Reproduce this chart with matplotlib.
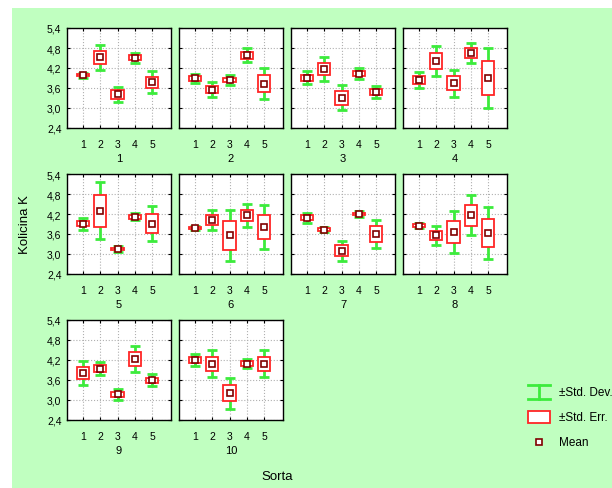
import matplotlib.pyplot as plt
import numpy as np
from matplotlib.patches import Rectangle

plt.rcParams['font.family'] = ['Liberation Sans', 'DejaVu Sans']

sorta = [1, 2, 3, 4, 5]
groups = ['1', '2', '3', '4', '5', '6', '7', '8', '9', '10']

# mean per group (rows) and sorta (cols)
means = [
    [3.98, 4.52, 3.41, 4.51, 3.77],
    [3.90, 3.55, 3.84, 4.58, 3.73],
    [3.91, 4.17, 3.31, 4.03, 3.48],
    [3.85, 4.41, 3.74, 4.66, 3.91],
    [3.91, 4.30, 3.15, 4.12, 3.91],
    [3.78, 4.02, 3.56, 4.16, 3.81],
    [4.09, 3.73, 3.10, 4.20, 3.60],
    [3.85, 3.56, 3.66, 4.16, 3.63],
    [3.81, 3.94, 3.17, 4.24, 3.59],
    [4.20, 4.09, 3.20, 4.09, 4.09],
]
std_err = [
    [0.03, 0.19, 0.13, 0.08, 0.16],
    [0.075, 0.10, 0.07, 0.095, 0.25],
    [0.085, 0.175, 0.21, 0.08, 0.09],
    [0.12, 0.235, 0.21, 0.145, 0.505],
    [0.075, 0.475, 0.04, 0.055, 0.29],
    [0.035, 0.155, 0.43, 0.175, 0.35],
    [0.07, 0.04, 0.16, 0.04, 0.235],
    [0.04, 0.14, 0.34, 0.31, 0.42],
    [0.18, 0.11, 0.07, 0.21, 0.08],
    [0.085, 0.205, 0.24, 0.07, 0.205],
]
std_dev = [
    [0.07, 0.37, 0.23, 0.15, 0.33],
    [0.135, 0.23, 0.15, 0.21, 0.47],
    [0.195, 0.35, 0.38, 0.165, 0.185],
    [0.245, 0.46, 0.40, 0.295, 0.905],
    [0.18, 0.855, 0.085, 0.10, 0.53],
    [0.055, 0.305, 0.77, 0.35, 0.66],
    [0.145, 0.08, 0.30, 0.08, 0.43],
    [0.075, 0.285, 0.62, 0.60, 0.78],
    [0.35, 0.195, 0.155, 0.385, 0.18],
    [0.185, 0.405, 0.475, 0.13, 0.40],
]
yticks = [2.4, 3.0, 3.6, 4.2, 4.8, 5.4]

GREEN = '#3CEB3C'
RED = '#FF2525'
DARK = '#800000'
W, H = 612, 489

fig = plt.figure(figsize=(W / 100, H / 100), dpi=100)
fig.patches.append(Rectangle((12 / W, 0), 1, (H - 9) / H, transform=fig.transFigure,
                             facecolor='#C0FFC0', edgecolor='none', zorder=-10))

lefts = [67, 179, 291, 403]
tops = [29, 175, 321]
pw, ph = 104, 100

for g, name in enumerate(groups):
    r, c = divmod(g, 4)
    ax = fig.add_axes([lefts[c] / W, 1 - (tops[r] + ph) / H, pw / W, ph / H])
    m = np.array(means[g])
    se = np.array(std_err[g])
    sd = np.array(std_dev[g])
    ax.errorbar(sorta, m, yerr=sd, fmt='none', ecolor=GREEN, elinewidth=2,
                capsize=3.6, capthick=2, zorder=2)
    ax.bar(sorta, 2 * se, bottom=m - se, width=0.72, facecolor='white',
           edgecolor=RED, linewidth=1.3, zorder=3)
    ax.plot(sorta, m, 's', ms=4.2, mfc='white', mec=DARK, mew=1.2, zorder=4)

    ax.set_xlim(0.07, 6.1)
    ax.set_ylim(2.4, 5.4)
    ax.set_xticks(sorta)
    ax.set_yticks(yticks)
    if c == 0:
        ax.set_yticklabels([f'{v:.1f}'.replace('.', ',') for v in yticks])
    else:
        ax.set_yticklabels([])
    ax.grid(True, color='#b0b0b0', linestyle=':', linewidth=0.8)
    ax.set_axisbelow(True)
    ax.tick_params(direction='in', length=2.5, width=0.8, labelsize=7.5,
                   top=True, right=True, pad=8, colors='black')
    ax.tick_params(axis='y', pad=4)
    ax.set_xlabel(name, fontsize=8, labelpad=2.5)
    for s in ax.spines.values():
        s.set_linewidth(1.0)

fig.text(25 / W, 1 - 225 / H, 'Kolicina K', rotation=90, ha='center', va='center',
         fontsize=9.5)
fig.text(277 / W, 1 - 477 / H, 'Sorta', ha='center', va='center', fontsize=9.5)

# legend
lg = fig.add_axes([0, 0, 1, 1])
lg.set_xlim(0, W)
lg.set_ylim(H, 0)
lg.axis('off')
lg.plot([539, 539], [386, 400], color=GREEN, lw=2)
lg.plot([528, 550], [386, 386], color=GREEN, lw=2)
lg.plot([528, 550], [400, 400], color=GREEN, lw=2)
lg.add_patch(Rectangle((528, 412), 22, 12, facecolor='white', edgecolor=RED, lw=1.3))
lg.plot([538.5], [443], 's', ms=4.2, mfc='white', mec=DARK, mew=1.2)
for ty, label in [(393, '±Std. Dev.'), (418, '±Std. Err.'), (443, 'Mean')]:
    lg.text(559, ty, label, ha='left', va='center', fontsize=8.5)

fig.savefig('out.png', dpi=100)
